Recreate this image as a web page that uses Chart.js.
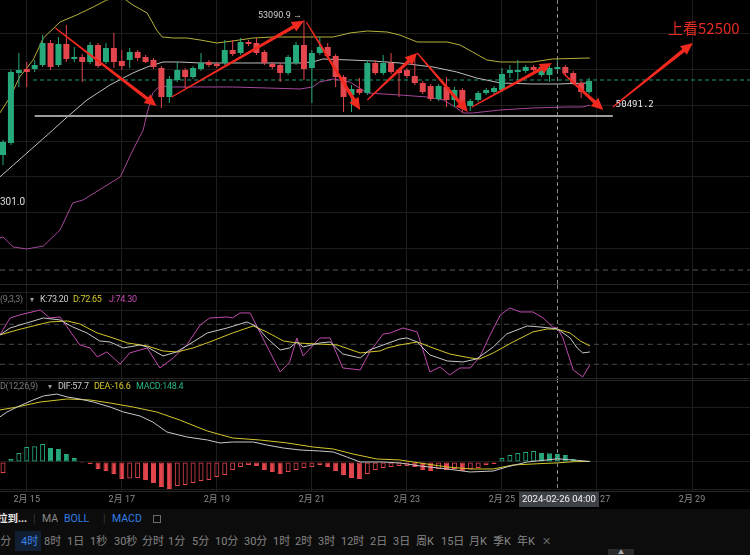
<!DOCTYPE html>
<html><head><meta charset="utf-8">
<script src="https://cdn.jsdelivr.net/npm/chart.js@4.4.1/dist/chart.umd.min.js"></script>
<style>
*{box-sizing:border-box}
html,body{margin:0;padding:0;background:#000;}
#wrap{position:relative;width:750px;height:555px;overflow:hidden;background:#000;font-family:Roboto,"Noto Sans CJK SC",sans-serif;}
canvas{position:absolute;left:0;display:block}
.t{position:absolute;white-space:nowrap;line-height:1;font-size:9px;letter-spacing:-0.3px}
.sep{position:absolute;left:0;width:750px;height:1px;background:#262626}
#tb{position:absolute;left:0;top:509px;width:750px;height:46px;background:#0c0c0c}
.r1{position:absolute;top:5px;font-size:10.5px;line-height:1;color:#8a8a8a}
.r2{position:absolute;top:27px;font-size:11px;line-height:1;color:#858585}
</style></head><body><div id="wrap">
<canvas id="cMain" width="750" height="285" style="top:0"></canvas>
<canvas id="cKdj" width="750" height="94" style="top:285px"></canvas>
<canvas id="cMacd" width="750" height="131" style="top:379px"></canvas>
<div class="sep" style="top:284px"></div>
<div class="sep" style="top:378px"></div>
<div class="sep" style="top:380px"></div>
<div class="sep" style="top:491px"></div>
<div class="t" style="top:295px;left:0;color:#7a7a7a">(9,3,3)</div>
<div class="t" style="top:296px;left:30px;font-size:8px;color:#9a9a9a">▾</div>
<div class="t" style="top:295px;left:40px;color:#cfcfcf">K:73.20</div>
<div class="t" style="top:295px;left:73px;color:#d8cb2c">D:72.65</div>
<div class="t" style="top:295px;left:109px;color:#c24db0">J:74.30</div>
<div class="t" style="top:382px;left:0;color:#7a7a7a">D(12,26,9)</div>
<div class="t" style="top:383px;left:48px;font-size:8px;color:#9a9a9a">▾</div>
<div class="t" style="top:382px;left:58px;color:#cfcfcf">DIF:57.7</div>
<div class="t" style="top:382px;left:94px;color:#d8cb2c">DEA:-16.6</div>
<div class="t" style="top:382px;left:136px;color:#2cb57f">MACD:148.4</div>
<div id="tb">
  <div class="r1" style="left:-3px;color:#e8e8e8;font-weight:bold">拉到...</div>
  <div class="r1" style="left:33px;color:#3a3a3a">|</div>
  <div class="r1" style="left:42px">MA</div>
  <div class="r1" style="left:64px;color:#2f7fe6">BOLL</div>
  <div class="r1" style="left:103px;color:#3a3a3a">|</div>
  <div class="r1" style="left:112px;color:#2f7fe6">MACD</div>
  <div style="position:absolute;left:153px;top:6px;width:8px;height:8px;border:1px solid #6a6a6a"></div>
  <div style="position:absolute;left:15px;top:22px;width:26px;height:20px;background:#121f33"></div>
  <div class="r2" style="left:-6px">5分</div>
  <div class="r2" style="left:21px;color:#3b82e8">4时</div>
  <div class="r2" style="left:44px">8时</div>
  <div class="r2" style="left:67px">1日</div>
  <div class="r2" style="left:90px">1秒</div>
  <div class="r2" style="left:114px">30秒</div>
  <div class="r2" style="left:142px">分时</div>
  <div class="r2" style="left:168px">1分</div>
  <div class="r2" style="left:192px">5分</div>
  <div class="r2" style="left:215px">10分</div>
  <div class="r2" style="left:244px">30分</div>
  <div class="r2" style="left:273px">1时</div>
  <div class="r2" style="left:295px">2时</div>
  <div class="r2" style="left:318px">3时</div>
  <div class="r2" style="left:341px">12时</div>
  <div class="r2" style="left:370px">2日</div>
  <div class="r2" style="left:393px">3日</div>
  <div class="r2" style="left:416px">周K</div>
  <div class="r2" style="left:441px">15日</div>
  <div class="r2" style="left:469px">月K</div>
  <div class="r2" style="left:493px">季K</div>
  <div class="r2" style="left:517px">年K</div>
  <div class="r2" style="left:542px;color:#666">✕</div>
  <div style="position:absolute;left:608px;top:40px;width:26px;height:6px;background:#2a2a2a;color:#aaa;font-size:6px;line-height:6px;text-align:center">▲</div>
</div>
</div>
<script>
// ---------- data (4h candles, index 0 = 2024-02-14 12:00) ----------
const opens  = [49311,49647,51607,51719,51719,51831,52447,51831,52419,51999,52055,51915,52391,51915,52307,51943,51971,52195,52055,51971,51747,50935,51411,51691,51495,51719,51915,51859,51887,52251,52167,52475,52447,52195,51859,51831,51607,51887,52391,51747,52167,52335,52083,51495,50991,51159,51047,51887,51607,51887,51691,51691,51523,51327,51243,50879,51215,50851,51131,50683,50851,51047,51075,51131,51607,51635,51663,51775,51551,51551,51719,51775,51607,51327,51075];
const highs  = [49731,51691,52167,51915,51971,52671,52531,52615,52951,52335,52139,52475,52447,52447,52727,52251,52307,52251,52111,52027,51803,51523,51915,51747,51803,52167,51971,51915,52531,52531,52587,52531,52587,52251,51915,51887,52111,52475,53090.9,52251,52615,52447,52139,51551,51271,51467,51971,51971,52111,52167,51747,51747,52111,51383,51299,51299,51495,51215,51187,50879,51103,51187,51243,51747,51831,51971,51831,51831,51831,51803,51971,51831,51663,51383,51467];
const lows   = [49031,49591,51215,51215,51635,51775,51691,51775,51915,51915,51355,51859,51747,51859,51747,51691,51747,51943,51887,51719,50627,50767,51355,51187,51439,51663,51775,51747,51831,52083,52111,52363,52111,51831,51719,51355,51551,51831,51411,50767,52111,52027,51215,50515,50515,50991,50991,51551,51551,51579,50935,51467,51271,51019,50823,50823,50655,50655,50491.2,50543,50795,50991,51019,51075,51467,51411,51607,51635,51495,51355,51663,51551,51271,50907,51019];
const closes = [49675,51635,51691,51635,51831,52447,51775,52419,51999,52055,51915,52391,51803,52307,51915,51803,52195,52027,51915,51775,50935,51439,51691,51495,51747,51887,51831,51803,52251,52139,52475,52419,52167,51887,51775,51607,52055,52391,51719,52167,52335,52083,51495,50935,51159,51047,51887,51607,51887,51635,51607,51523,51327,51075,50879,51243,50851,51131,50655,50823,51047,51131,51187,51579,51691,51691,51775,51691,51775,51747,51775,51607,51327,51075,51383];

// Bollinger band vertices [candle index, price]
const bollUpper = [[-0.4,50487],[0.9,50935],[2.1,51495],[3.8,51971],[5.1,52587],[7.2,53035],[9.3,53231],[11.4,53455],[13.1,53651],[15.0,53735],[16.4,53511],[18.2,53287],[19.4,52811],[20.1,52615],[21.5,52587],[23.2,52587],[24.9,52531],[27.0,52447],[29.0,52503],[31.6,52587],[34.1,52615],[37.5,52615],[41.7,52615],[43.8,52727],[46.0,52783],[48.5,52755],[50.1,52671],[52.3,52475],[56.1,52475],[57.7,52391],[59.3,52195],[61.1,51971],[62.8,51915],[66.9,51915],[69.4,51999],[74.1,52027]];
const bollMid = [[-0.4,48695],[6.3,50011],[8.1,50375],[10.6,50851],[13.5,51271],[16.4,51607],[18.2,51775],[20.2,51915],[22.3,51915],[24.9,51887],[29.0,51887],[33.3,51887],[37.5,51887],[39.1,51915],[40.4,51999],[43.8,51971],[46.7,51943],[50.1,51887],[54.3,51775],[57.3,51635],[59.8,51467],[62.8,51327],[66.9,51299],[70.0,51299],[74.1,51327]];
const bollLower = [[-0.4,46987],[0,47015],[1.3,46735],[3.0,46679],[5.1,46763],[7.2,47211],[8.8,47967],[10.1,48051],[14.8,48695],[16.4,49451],[17.7,50011],[18.2,50487],[18.9,51047],[19.8,51243],[21.5,51215],[24.9,51215],[29.0,51215],[33.3,51187],[37.5,51159],[39.1,51215],[40.0,51355],[41.7,51439],[43.8,51355],[46.0,51047],[50.1,50991],[53.5,50935],[55.6,50851],[57.3,50627],[58.1,50487],[59.3,50487],[62.8,50571],[66.9,50627],[71.2,50655],[73.2,50655],[74.1,50711]];

// KDJ(9,3,3) vertices [index, value]
const kLine = [[-0.4,64],[0.9,74.5],[3.0,82],[5.1,89.5],[7.2,86.5],[8.8,76],[10.6,67],[12.2,55],[13.5,53.5],[15.2,44.5],[17.3,49],[18.2,46],[20.2,32.5],[21.9,38.5],[24.0,53.5],[25.8,67],[28.3,74.5],[30.8,83.5],[32.1,76],[33.3,59.5],[35.0,41.5],[36.2,44.5],[37.1,53.5],[37.9,46],[40.0,52],[41.3,53.5],[42.9,35.5],[45.1,29.5],[46.3,41.5],[48.0,49],[50.1,58],[51.0,59.5],[52.3,53.5],[53.9,34],[56.1,25],[58.1,23.5],[59.8,28],[61.9,46],[63.6,65.5],[66.2,77.5],[67.8,76],[70.0,73.2],[71.6,59.5],[72.5,44.5],[73.2,37],[74.1,38.5]];
const dLine = [[-0.4,64],[1.8,71.5],[3.8,77.5],[5.9,83.5],[8.1,85],[9.7,80.5],[11.9,67],[13.9,59.5],[15.7,52],[18.2,47.5],[20.2,40],[22.0,38.5],[24.0,44.5],[26.1,53.5],[29.0,67],[31.6,77.5],[33.3,68.5],[35.4,55],[37.1,52],[39.6,50.5],[42.2,49],[45.1,37],[46.3,38.5],[47.6,40],[48.5,44.5],[50.1,49],[52.3,53.5],[54.3,44.5],[56.4,35.5],[59.0,29.5],[60.2,28],[61.9,37],[64.4,53.5],[66.9,68.5],[68.7,73],[70.0,72.65],[71.6,67],[72.9,55],[74.1,47.5]];
const jLine = [[-0.4,64],[0.9,89.5],[2.1,94],[4.7,101.5],[5.9,89.5],[7.2,91],[9.7,49],[11.0,44.5],[11.9,31],[13.1,38.5],[14.8,20.5],[16.0,37],[18.2,44.5],[19.8,14.5],[21.5,29.5],[23.2,49],[24.9,79],[26.1,89.5],[28.3,91],[29.0,89.5],[29.9,97],[31.2,97],[32.8,59.5],[33.7,38.5],[35.0,8.5],[36.2,23.5],[37.1,59.5],[37.9,32.5],[40.0,59.5],[41.3,59.5],[42.9,14.5],[45.1,11.5],[46.3,38.5],[48.0,65.5],[48.9,67],[50.5,74.5],[52.3,68.5],[53.9,8.5],[55.2,16],[56.4,4],[57.7,14.5],[59.0,14.5],[60.2,31],[61.5,64],[62.8,94],[64.0,104.5],[65.3,98.5],[66.9,98.5],[68.2,89.5],[69.4,76],[70.0,74.3],[70.7,59.5],[72.0,11.5],[73.2,1],[74.1,19]];
const kdjLevels = [80, 50, 20];

// MACD(12,26,9)
const difLine = [[-0.4,824],[0.5,915],[1.8,1007],[3.8,1135],[5.1,1208],[6.8,1244],[8.1,1190],[9.7,1153],[11.4,1098],[13.5,1007],[15.2,915],[17.3,842],[18.9,732],[20.7,549],[23.2,458],[25.8,403],[27.4,348],[29.0,366],[31.6,366],[33.3,311],[35.4,256],[37.5,220],[40.0,201],[41.7,183],[43.4,92],[45.1,0],[48.0,0],[50.1,-18],[52.7,-73],[56.1,-128],[59.0,-183],[61.9,-165],[63.6,-92],[66.2,0],[70.0,57.7],[72.5,30],[74.1,10]];
const deaLine = [[-0.4,952],[1.8,1007],[4.7,1098],[8.1,1153],[11.0,1135],[13.5,1080],[16.4,1007],[19.4,915],[22.3,769],[25.8,567],[29.0,439],[32.4,403],[35.9,348],[39.1,275],[41.7,238],[44.2,146],[47.2,55],[50.1,37],[51.8,0],[56.1,-92],[59.0,-128],[61.9,-128],[64.4,-55],[67.8,-30],[70.0,-16.6],[72.0,5],[74.1,10]];
const macdHist = [-200,55,165,275,290,330,256,238,146,73,-18,-37,-128,-165,-220,-310,-300,-295,-330,-384,-458,-494,-440,-421,-384,-348,-330,-275,-238,-146,-92,-55,-73,-146,-183,-220,-183,-146,-110,-92,-55,-92,-165,-238,-293,-311,-220,-146,-110,-92,-73,-73,-92,-146,-165,-128,-146,-128,-165,-128,-110,-55,-37,73,128,165,183,201,165,160,148.4,128,55,18,5];

// x axis ticks
const tickIdx = [3,15,27,39,51,63,75,87];
const tickLabels = ['2月 15','2月 17','2月 19','2月 21','2月 23','2月 25','2月 27','2月 29'];
const crossIdx = 70, crossLabel = '2024-02-26 04:00';

// drawn annotations
const lastPriceLine = 51411;
const supportLine = {from:4.0, to:77.0, price:50403, label:'50491.2'};
const lowerRefLine = 46091;
const arrows = [[6.6,52867,19.4,50683],[21.3,50935,38.0,53070],[38.3,53035,45.1,50571],[46.0,50851,52.3,52167],[52.3,52167,58.7,50515],[59.2,50655,69.3,51887],[70.7,51607,75.8,50571],[77.0,50655,87.1,52447]];
const highMark = {idx:38, price:53090.9, text:'53090.9 →'};
const targetText = '上看52500';

// ---------- helpers ----------
const UP='#26a97b', DOWN='#e4464d', GRID='#1d1d1d';
const X_MIN=-0.38, X_MAX=94.32;
const pts = a => a.map(p=>({x:p[0], y:p[1]}));
const isUp = i => closes[i] >= opens[i];

function xAxis(showLabels){
  return {type:'linear', min:X_MIN, max:X_MAX, offset:false,
    grid:{color:GRID, drawTicks:false, offset:false}, border:{display:false},
    ticks:{display:showLabels, autoSkip:false, maxRotation:0, color:'#8a8a8a', padding:3,
      font:{size:9, family:'Roboto, "Noto Sans CJK SC"'}, callback:(v,i)=>tickLabels[i]},
    afterBuildTicks:a=>{a.ticks = tickIdx.map(v=>({value:v}));},
    afterFit:a=>{a.height = showLabels?19:0;}};
}
function yAxis(min,max,grid){
  return {min, max, position:'right', grid:{color:GRID, drawTicks:false}, border:{display:false},
    ticks:{display:false}, afterBuildTicks:a=>{a.ticks = grid.map(v=>({value:v}));},
    afterFit:a=>{a.width=0;}};
}
function lineDs(data,color,extra){
  return Object.assign({type:'line', data:pts(data), borderColor:color, borderWidth:1, pointRadius:0, tension:0, order:5}, extra||{});
}
const baseOpts = {responsive:false, animation:false, devicePixelRatio:1,
  layout:{padding:0, autoPadding:false}, plugins:{legend:{display:false}, tooltip:{enabled:false}},
  events:[]};

const crossPlugin = {id:'cross', afterDatasetsDraw(ch){
  const x = Math.round(ch.scales.x.getPixelForValue(crossIdx))+0.5;
  const c=ch.ctx; c.save(); c.strokeStyle='#8a8a8a'; c.lineWidth=1; c.setLineDash([4,3]);
  c.beginPath(); c.moveTo(x, ch.chartArea.top); c.lineTo(x, ch.chartArea.bottom); c.stroke(); c.restore();
}};

function drawArrow(c,x0,y0,x1,y1){
  const dx=x1-x0, dy=y1-y0, L=Math.hypot(dx,dy), ux=dx/L, uy=dy/L, nx=-uy, ny=ux;
  const head=12, hw=5.5, w0=0.6, w1=1.8;
  const bx=x1-ux*head, by=y1-uy*head;
  c.beginPath();
  c.moveTo(x0+nx*w0,y0+ny*w0); c.lineTo(bx+nx*w1,by+ny*w1); c.lineTo(bx+nx*hw,by+ny*hw);
  c.lineTo(x1,y1); c.lineTo(bx-nx*hw,by-ny*hw); c.lineTo(bx-nx*w1,by-ny*w1); c.lineTo(x0-nx*w0,y0-ny*w0);
  c.closePath(); c.fill();
}
const annoPlugin = {id:'anno', afterDatasetsDraw(ch){
  const c=ch.ctx, xs=ch.scales.x, ys=ch.scales.y;
  c.save();
  c.fillStyle='#f2291f';
  arrows.forEach(a=>drawArrow(c, xs.getPixelForValue(a[0]), ys.getPixelForValue(a[1]), xs.getPixelForValue(a[2]), ys.getPixelForValue(a[3])));
  c.font='9px Roboto'; c.fillStyle='#d0d0d0'; c.textAlign='right'; c.textBaseline='middle';
  c.fillText(highMark.text, xs.getPixelForValue(highMark.idx)-2, ys.getPixelForValue(highMark.price)-4);
  c.font='9px "DejaVu Sans Mono"'; c.fillStyle='#e6e6e6'; c.textAlign='left';
  c.fillText(supportLine.label, xs.getPixelForValue(supportLine.to)+3, ys.getPixelForValue(supportLine.price)-11.5);
  c.font='10px Roboto'; c.fillStyle='#dcdcdc';
  c.fillText('301.0', 0, 202.5);
  c.font='15px "Noto Sans CJK SC"'; c.fillStyle='#e52b22'; c.textAlign='left';
  c.fillText(targetText, 668, 28.5);
  c.restore();
}};

// ---------- main chart ----------
new Chart(document.getElementById('cMain'), {
  type:'bar',
  data:{datasets:[
    {type:'bar', data:closes.map((v,i)=>({x:i, y:[lows[i], highs[i]]})), backgroundColor:ctx=>isUp(ctx.dataIndex)?UP:DOWN,
      grouped:false, barPercentage:1, categoryPercentage:1, maxBarThickness:1, minBarLength:1, order:2, inflateAmount:0},
    {type:'bar', data:closes.map((v,i)=>({x:i, y:[opens[i], closes[i]]})), backgroundColor:ctx=>isUp(ctx.dataIndex)?UP:DOWN,
      grouped:false, barPercentage:1, categoryPercentage:1, maxBarThickness:6, minBarLength:1, order:1, inflateAmount:0},
    lineDs(bollUpper,'#b8b03a'),
    lineDs(bollMid,'#bdbdbd'),
    lineDs(bollLower,'#a5479a'),
    lineDs([[3.8,lastPriceLine],[X_MAX,lastPriceLine]],'#1f9e74',{borderDash:[4,3], order:6}),
    lineDs([[X_MIN,lowerRefLine],[X_MAX,lowerRefLine]],'#5a5a5a',{borderDash:[5,4], order:6}),
    lineDs([[supportLine.from,supportLine.price],[supportLine.to,supportLine.price]],'#9c9c9c',{borderWidth:2, order:0})
  ]},
  options:Object.assign({}, baseOpts, {scales:{x:xAxis(false), y:yAxis(45670.9, 53650.9, [52700,51700,50700,49700,48700,47700,46700])}}),
  plugins:[crossPlugin, annoPlugin]
});

// ---------- KDJ chart ----------
new Chart(document.getElementById('cKdj'), {
  type:'line',
  data:{datasets:[
    ...kdjLevels.map(v=>lineDs([[X_MIN,v],[X_MAX,v]],'#4a4a4a',{borderDash:[5,4], order:9})),
    lineDs(kLine,'#c8c8c8'),
    lineDs(dLine,'#d3c72a'),
    lineDs(jLine,'#bf4aae')
  ]},
  options:Object.assign({}, baseOpts, {scales:{x:xAxis(false), y:yAxis(-2.05, 138.95, [127,100])}}),
  plugins:[crossPlugin]
});

// ---------- MACD chart ----------
const crossLabelPlugin = {id:'crossLabel', afterDraw(ch){
  const c=ch.ctx, x=ch.scales.x.getPixelForValue(crossIdx)+1.5;
  c.save(); c.font='9.5px Roboto';
  const w=c.measureText(crossLabel).width+6;
  c.fillStyle='#3d4047'; c.fillRect(Math.round(x-w/2), ch.chartArea.bottom, Math.round(w), 16);
  c.fillStyle='#f2f2f2'; c.textAlign='center'; c.textBaseline='middle';
  c.fillText(crossLabel, x, ch.chartArea.bottom+8.5);
  c.restore();
}};
new Chart(document.getElementById('cMacd'), {
  type:'bar',
  data:{datasets:[
    {type:'bar', data:macdHist.map((v,i)=>({x:i, y:v})),
      backgroundColor:ctx=>{const i=ctx.dataIndex, v=macdHist[i]; const hollow = i===0 || v>=macdHist[i-1]; return hollow?'rgba(0,0,0,0)':(v>=0?UP:DOWN);},
      borderColor:ctx=>macdHist[ctx.dataIndex]>=0?UP:DOWN, borderWidth:1, borderSkipped:false,
      grouped:false, barPercentage:1, categoryPercentage:1, maxBarThickness:5, minBarLength:1, order:3, inflateAmount:0},
    lineDs(difLine,'#c8c8c8',{order:1}),
    lineDs(deaLine,'#d3c72a',{order:2})
  ]},
  options:Object.assign({}, baseOpts, {scales:{x:xAxis(true), y:yAxis(-531, 1519, [1000,500,0,-500])}}),
  plugins:[crossPlugin, crossLabelPlugin]
});
</script>
</body></html>
